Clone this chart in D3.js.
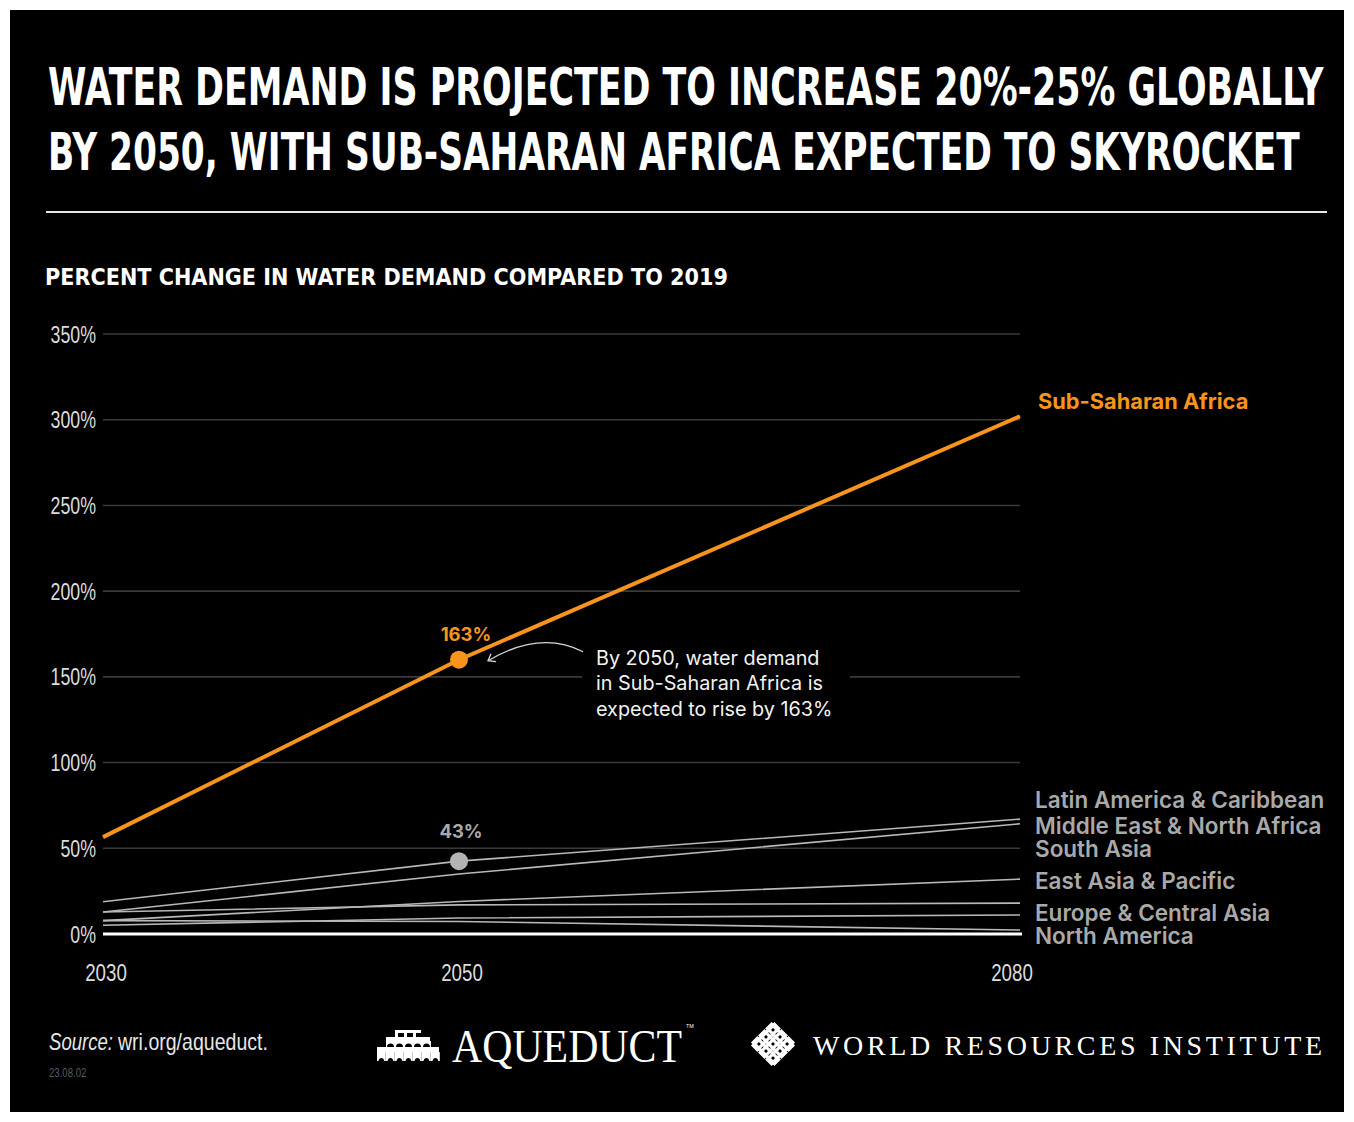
<!DOCTYPE html>
<html><head><meta charset="utf-8">
<script src="https://cdn.jsdelivr.net/npm/d3@7"></script>
<style>html,body{margin:0;padding:0;background:#fff;} svg{display:block}</style>
</head><body>
<svg id="chart" width="1354" height="1122"></svg>
<script>
// ---------- DATA ----------
const titleLines = ["WATER DEMAND IS PROJECTED TO INCREASE 20%-25% GLOBALLY", "BY 2050, WITH SUB-SAHARAN AFRICA EXPECTED TO SKYROCKET"];
const subtitle = "PERCENT CHANGE IN WATER DEMAND COMPARED TO 2019";
const years = [2030, 2050, 2080];
const yTicks = [0, 50, 100, 150, 200, 250, 300, 350];
const ssaName = "Sub-Saharan Africa";
const ssaValues = [56.5, 160, 302];
const regionNames = ["Latin America & Caribbean", "Middle East & North Africa", "South Asia", "East Asia & Pacific", "Europe & Central Asia", "North America"];
const lacValues = [18.8, 42.5, 67];
const menaValues = [12.8, 35, 64.3];
const saValues = [7.8, 19, 32];
const eapValues = [12.8, 17, 18];
const ecaValues = [5.1, 9.3, 11.1];
const naValues = [7.8, 7.3, 2.3];
const highlightLabels = ["163%", "43%"];
const noteLines = ["By 2050, water demand", "in Sub-Saharan Africa is", "expected to rise by 163%"];
const sourceText = ["Source:", "wri.org/aqueduct."];
const dateText = "23.08.02";

// ---------- LAYOUT ----------
const W = 1354, H = 1122;
const narrow = "'Liberation Sans','DejaVu Sans',sans-serif";
const cond = "'DejaVu Sans Condensed','DejaVu Sans',sans-serif";
const sans = "Inter,'Noto Sans',sans-serif";
const serif = "'Liberation Serif','DejaVu Serif',serif";
const ORANGE = "#F7941D", GRAYLINE = "#b8b8b8", GRAYTXT = "#a9a9a9";
const labelShift = [78, 63, 49.6, 30.8, 12.3, -1.2]; // label anchors in % units (designer placement)

// squeeze a text horizontally (no narrow font installed)
function condense(sel, f) {
  sel.each(function () {
    const w = this.getComputedTextLength();
    d3.select(this).attr("textLength", w * f).attr("lengthAdjust", "spacingAndGlyphs");
  });
  return sel;
}
// fit a text to a target width by a horizontal scale transform
function fitWidth(sel, x0, y0, target) {
  sel.each(function () {
    const w = this.getComputedTextLength();
    d3.select(this).attr("x", 0).attr("y", 0)
      .attr("transform", `translate(${x0},${y0}) scale(${target / w},1)`);
  });
  return sel;
}

const svg = d3.select("#chart");
svg.append("rect").attr("x", 10).attr("y", 10).attr("width", W - 20).attr("height", H - 20).attr("fill", "#000");

// Title
titleLines.forEach((t, i) => {
  fitWidth(svg.append("text")
    .attr("fill", "#fff").attr("font-family", cond).attr("font-weight", 700)
    .attr("font-size", 52).text(t), 48, 105 + i * 65, i === 0 ? 1276 : 1252);
});
svg.append("line").attr("x1", 46).attr("x2", 1327).attr("y1", 212).attr("y2", 212).attr("stroke", "#e6e6e6").attr("stroke-width", 2);

fitWidth(svg.append("text").attr("fill", "#fff")
  .attr("font-family", cond).attr("font-weight", 700).attr("font-size", 23).text(subtitle), 45, 285, 683);

// Scales
const x = d3.scaleLinear().domain(years).range([103, 459, 1020]);
const y = d3.scaleLinear().domain([0, 350]).range([934, 334]);

// Grid
const g = svg.append("g");
g.selectAll("line.grid").data(yTicks.filter(d => d > 0)).join("line")
  .attr("x1", x(2030)).attr("x2", x(2080)).attr("y1", d => y(d)).attr("y2", d => y(d))
  .attr("stroke", "#3a3a3a").attr("stroke-width", 1.6);
condense(g.selectAll("text.ytick").data(yTicks).join("text")
  .attr("x", 96).attr("y", d => y(d)).attr("dy", "0.36em").attr("text-anchor", "end")
  .attr("fill", "#dcdcdc").attr("font-family", narrow).attr("font-size", 24)
  .text(d => d + "%"), 0.74);
condense(g.selectAll("text.xtick").data(years).join("text")
  .attr("x", (d, i) => x(d) + (i === 2 ? -8 : 3)).attr("y", 981).attr("text-anchor", "middle")
  .attr("fill", "#dcdcdc").attr("font-family", narrow).attr("font-size", 24)
  .text(d => d), 0.78);

// Gray series
const series = [lacValues, menaValues, saValues, eapValues, ecaValues, naValues];
const line = d3.line().x((d, i) => x(years[i])).y(d => y(d));
g.selectAll("path.gray").data(series).join("path")
  .attr("d", line).attr("fill", "none").attr("stroke", GRAYLINE).attr("stroke-width", 1.6);
// baseline
g.append("line").attr("x1", x(2030)).attr("x2", x(2080) + 2).attr("y1", y(0)).attr("y2", y(0))
  .attr("stroke", "#fff").attr("stroke-width", 3);

// region labels
g.selectAll("text.region").data(regionNames).join("text")
  .attr("x", 1035).attr("y", (d, i) => y(labelShift[i])).attr("dy", "0.36em")
  .attr("fill", GRAYTXT).attr("font-family", sans).attr("font-weight", 600).attr("font-size", 22.5)
  .text(d => d);

// SSA line
g.append("path").datum(ssaValues).attr("d", line).attr("fill", "none")
  .attr("stroke", ORANGE).attr("stroke-width", 4);
g.append("text").attr("x", 1038).attr("y", y(ssaValues[2]) - 15).attr("dy", "0.36em")
  .attr("fill", ORANGE).attr("font-family", sans).attr("font-weight", 700).attr("font-size", 21.8)
  .text(ssaName);

// highlight dots
g.append("circle").attr("cx", x(2050)).attr("cy", y(ssaValues[1])).attr("r", 9).attr("fill", ORANGE);
g.append("text").attr("x", x(2050) + 7).attr("y", y(ssaValues[1]) - 19).attr("text-anchor", "middle")
  .attr("fill", ORANGE).attr("font-family", sans).attr("font-weight", 700).attr("font-size", 18.5)
  .text(highlightLabels[0]);
g.append("circle").attr("cx", x(2050)).attr("cy", y(lacValues[1])).attr("r", 9).attr("fill", "#b3b3b3");
g.append("text").attr("x", x(2050) + 2).attr("y", y(lacValues[1]) - 23).attr("text-anchor", "middle")
  .attr("fill", GRAYTXT).attr("font-family", sans).attr("font-weight", 700).attr("font-size", 18.5)
  .text(highlightLabels[1]);

// annotation
const nx = 596, ny = y(ssaValues[1]) + 4;
g.append("rect").attr("x", nx - 14).attr("y", ny - 20).attr("width", 268).attr("height", 82).attr("fill", "#000");
g.selectAll("text.note").data(noteLines).join("text")
  .attr("x", nx).attr("y", (d, i) => ny + 1 + i * 25.5)
  .attr("fill", "#f2f2f2").attr("font-family", sans).attr("font-size", 19.8)
  .text(d => d);
const ax0 = nx - 13, ay0 = ny - 12, ax1 = x(2050) + 29, ay1 = y(ssaValues[1]) + 1;
g.append("path").attr("d", `M${ax0},${ay0} Q${(ax0 + ax1) / 2 + 5},${ay0 - 22} ${ax1},${ay1}`)
  .attr("fill", "none").attr("stroke", "#d8d8d8").attr("stroke-width", 1.3);
g.append("path").attr("d", `M${ax1 + 3},${ay1 - 7} L${ax1},${ay1} L${ax1 + 8},${ay1 + 1}`)
  .attr("fill", "none").attr("stroke", "#d8d8d8").attr("stroke-width", 1.3);

// ---------- FOOTER ----------
fitWidth(svg.append("text").attr("fill", "#e6e6e6").attr("font-style", "italic")
  .attr("font-family", narrow).attr("font-size", 23).text(sourceText[0]), 49, 1050, 64);
fitWidth(svg.append("text").attr("fill", "#e6e6e6")
  .attr("font-family", narrow).attr("font-size", 23).text(sourceText[1]), 118, 1050, 150);
condense(svg.append("text").attr("x", 49).attr("y", 1077).attr("fill", "#5a5a5a")
  .attr("font-family", narrow).attr("font-size", 12).text(dateText), 0.8);

// Aqueduct logo icon
const aq = svg.append("g").attr("fill", "#fff");
const ix = 377, iy = 1030;
aq.append("rect").attr("x", ix + 18).attr("y", iy).attr("width", 26).attr("height", 3);
aq.append("rect").attr("x", ix + 9).attr("y", iy + 7).attr("width", 44).attr("height", 4);
aq.append("rect").attr("x", ix).attr("y", iy + 17).attr("width", 62).attr("height", 5);
[0, 1, 2].forEach(i => aq.append("rect").attr("x", ix + 18 + i * 9).attr("y", iy + 3).attr("width", 3).attr("height", 4));
d3.range(5).forEach(i => {
  aq.append("path").attr("d", `M${ix + 9 + i * 9},${iy + 11} h9 v6 h-1 a3.5,3.5 0 0 0 -7,0 h-1 z`);
});
d3.range(7).forEach(i => {
  aq.append("path").attr("d", `M${ix + i * 9},${iy + 22} h8.8 v9 h-1.5 a3,4 0 0 0 -5.8,0 h-1.5 z`);
});
fitWidth(svg.append("text").attr("fill", "#fff")
  .attr("font-family", serif).attr("font-size", 46).text("AQUEDUCT"), 452, 1062, 230);
svg.append("text").attr("x", 686).attr("y", 1028).attr("fill", "#fff")
  .attr("font-family", sans).attr("font-size", 5).text("TM");

// WRI logo icon: woven diamond
const wri = svg.append("g").attr("transform", "translate(773,1044) rotate(45)")
  .attr("fill", "none").attr("stroke", "#fff").attr("stroke-width", 3.2);
[-10, 0, 10].forEach(o => {
  wri.append("rect").attr("x", -15).attr("y", o - 3).attr("width", 30).attr("height", 6);
  wri.append("rect").attr("x", o - 3).attr("y", -15).attr("width", 6).attr("height", 30);
});
svg.append("text").attr("x", 813).attr("y", 1055).attr("fill", "#fff")
  .attr("font-family", serif).attr("font-size", 28)
  .attr("textLength", 509).attr("lengthAdjust", "spacing").text("WORLD RESOURCES INSTITUTE");
</script>
</body></html>
